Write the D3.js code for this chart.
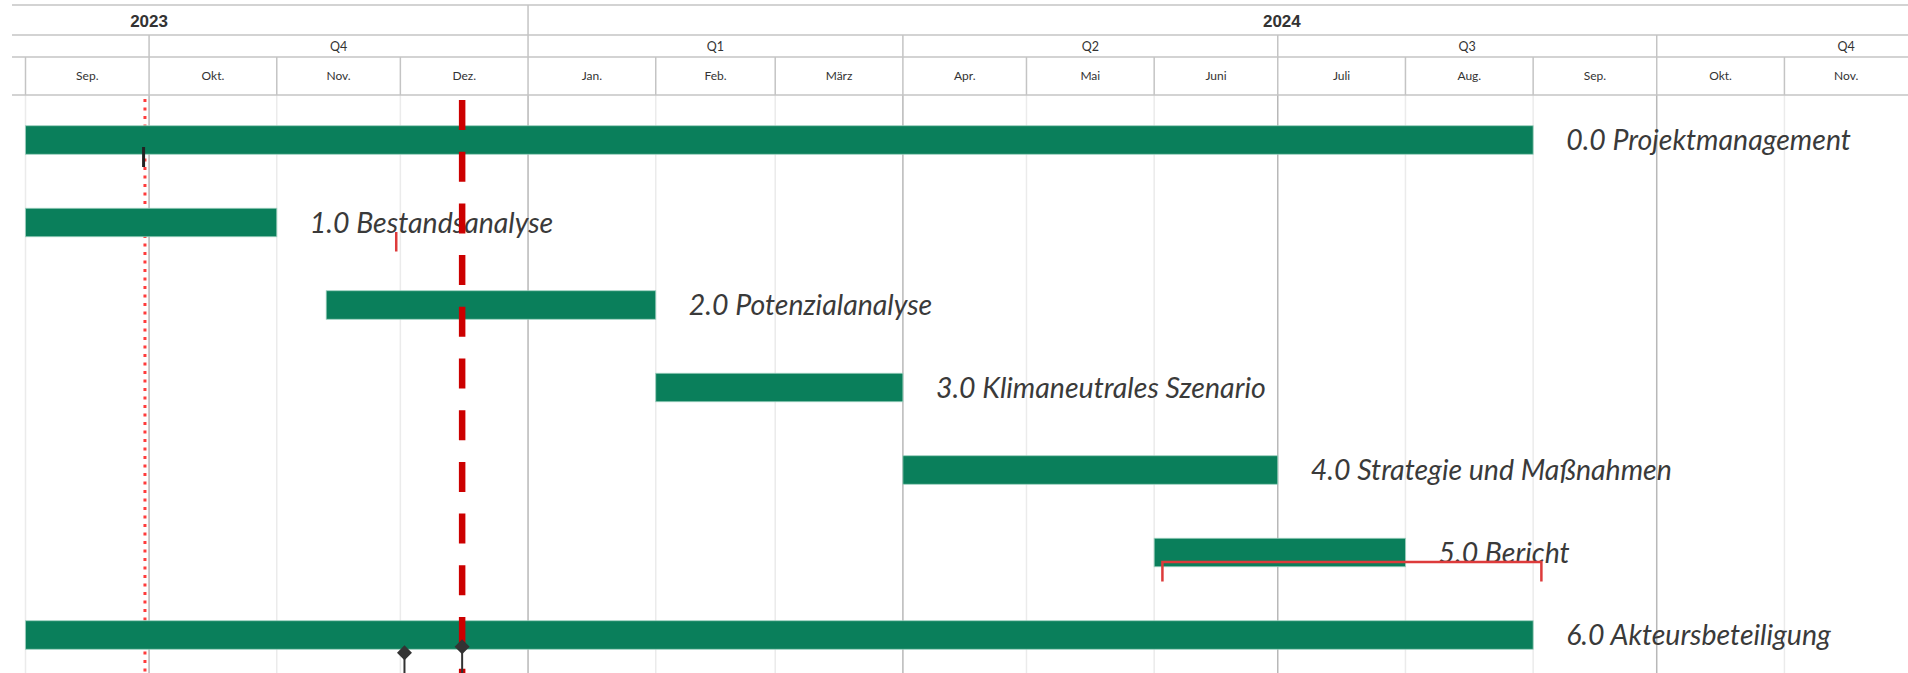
<!DOCTYPE html>
<html>
<head>
<meta charset="utf-8">
<script src="https://cdn.jsdelivr.net/npm/d3@7"></script>
<style>
  html, body { margin: 0; padding: 0; background: #fff; }
  svg { display: block; }
</style>
</head>
<body>
<svg id="chart" width="1908" height="673"></svg>
<script>
// ---------- data ----------
const tasks = [
  "0.0 Projektmanagement",
  "1.0 Bestandsanalyse",
  "2.0 Potenzialanalyse",
  "3.0 Klimaneutrales Szenario",
  "4.0 Strategie und Maßnahmen",
  "5.0 Bericht",
  "6.0 Akteursbeteiligung"
];
const taskStart = ["2023-09-01", "2023-09-01", "2023-11-13", "2024-02-01", "2024-04-01", "2024-06-01", "2023-09-01"];
const taskEnd   = ["2024-09-01", "2023-11-01", "2024-02-01", "2024-04-01", "2024-07-01", "2024-08-01", "2024-09-01"];

// red baseline brackets (task index, start, end)
const baselineTask  = [1, 5];
const baselineStart = ["2023-11-30", "2024-06-03"];
const baselineEnd   = ["2023-11-30", "2024-09-03"];

// milestones (diamonds) on task rows
const milestoneTask = [6, 6];
const milestoneDate = ["2023-12-02", "2023-12-16"];

// black marker on task 0
const markerTask = [0];
const markerDate = ["2023-09-29T16:00"];

const todayDate = "2023-12-16";
const dottedDate = "2023-09-30";

const monthLabels = ["Jan.", "Feb.", "März", "Apr.", "Mai", "Juni", "Juli", "Aug.", "Sep.", "Okt.", "Nov.", "Dez."];
const quarterLabels = ["Q1", "Q2", "Q3", "Q4"];
const viewStart = "2023-09-01";
const viewEnd = "2024-12-01";

// ---------- setup ----------
const W = 1908, H = 673;
const parse = s => new Date(s.length > 10 ? s : s + "T00:00");
const svg = d3.select("#chart");

const x = d3.scaleTime().domain([parse(viewStart), parse(viewEnd)]).range([25.5, W]);
const y = d3.scaleBand().domain(d3.range(tasks.length)).range([98.75, 676.25]);
const rowC = i => y(i) + y.bandwidth() / 2;
const barH = 28.5;

const headerTop = 5, yearBot = 35, qBot = 57, monthBot = 95;
const lineCol = "#c4c4c4";
const textCol = "#333333";

svg.append("defs").append("clipPath").attr("id", "clip")
  .append("rect").attr("x", 12).attr("y", 0).attr("width", W - 12).attr("height", H);

const root = svg.append("g").attr("clip-path", "url(#clip)");

const months = d3.timeMonth.range(parse(viewStart), parse(viewEnd));
const quarterStarts = d3.timeMonth.range(parse("2023-07-01"), parse("2025-01-01"), 3);
const years = [parse("2023-01-01"), parse("2024-01-01")];

// ---------- plot grid ----------
const grid = root.append("g");
grid.selectAll("line.m").data(months.filter(m => m.getMonth() % 3 !== 0)).join("line")
  .attr("x1", d => x(d)).attr("x2", d => x(d))
  .attr("y1", monthBot).attr("y2", H)
  .attr("stroke", "#ebebeb").attr("stroke-width", 1.5);
grid.selectAll("line.q").data(months.filter(m => m.getMonth() % 3 === 0)).join("line")
  .attr("x1", d => x(d)).attr("x2", d => x(d))
  .attr("y1", monthBot).attr("y2", H)
  .attr("stroke", "#b8b8b8").attr("stroke-width", 1.5);

// red dotted line (under bars)
root.append("line")
  .attr("x1", x(parse(dottedDate))).attr("x2", x(parse(dottedDate)))
  .attr("y1", 99).attr("y2", H)
  .attr("stroke", "#ff3b3b").attr("stroke-width", 3)
  .attr("stroke-dasharray", "3,5.5");

// ---------- header ----------
const hdr = root.append("g");
[headerTop, yearBot, qBot, monthBot].forEach(yy => {
  hdr.append("line").attr("x1", 12).attr("x2", W).attr("y1", yy).attr("y2", yy)
    .attr("stroke", lineCol).attr("stroke-width", 1.5);
});
// year row separators
hdr.selectAll("line.ys").data(years.filter(d => x(d) > 12)).join("line")
  .attr("x1", d => x(d)).attr("x2", d => x(d)).attr("y1", headerTop).attr("y2", yearBot)
  .attr("stroke", lineCol).attr("stroke-width", 1.5);
// quarter row separators
hdr.selectAll("line.qs").data(quarterStarts.filter(d => x(d) > 12 && x(d) < W)).join("line")
  .attr("x1", d => x(d)).attr("x2", d => x(d)).attr("y1", yearBot).attr("y2", qBot)
  .attr("stroke", lineCol).attr("stroke-width", 1.5);
// month row separators
hdr.selectAll("line.ms").data(months).join("line")
  .attr("x1", d => x(d)).attr("x2", d => x(d)).attr("y1", qBot).attr("y2", monthBot)
  .attr("stroke", lineCol).attr("stroke-width", 1.5);

// year labels
hdr.selectAll("text.y").data(years).join("text")
  .attr("x", d => {
    const mid = x(new Date((+d + +d3.timeYear.offset(d, 1)) / 2));
    return mid < x.range()[0] ? x(d3.timeMonth.offset(parse(viewStart), 1)) : mid;
  })
  .attr("y", 27)
  .attr("text-anchor", "middle")
  .attr("font-family", "'Liberation Sans', Arial, sans-serif")
  .attr("font-weight", "bold").attr("font-size", 17).attr("fill", textCol)
  .text(d => d.getFullYear());

// quarter labels (only those whose cell centre is in view)
const qMid = d => x(new Date((+d + +d3.timeMonth.offset(d, 3)) / 2));
hdr.selectAll("text.q").data(quarterStarts.filter(d => qMid(d) > 40)).join("text")
  .attr("x", qMid)
  .attr("y", 51)
  .attr("text-anchor", "middle")
  .attr("font-family", "Lato, sans-serif").attr("font-size", 12.5).attr("fill", textCol)
  .text(d => quarterLabels[Math.floor(d.getMonth() / 3)]);

// month labels
hdr.selectAll("text.m").data(months).join("text")
  .attr("x", d => x(new Date((+d + +d3.timeMonth.offset(d, 1)) / 2)))
  .attr("y", 80)
  .attr("text-anchor", "middle")
  .attr("font-family", "Lato, sans-serif").attr("font-size", 12).attr("fill", textCol)
  .text(d => monthLabels[d.getMonth()]);

// ---------- bars ----------
const barsG = root.append("g");
barsG.selectAll("rect").data(tasks).join("rect")
  .attr("x", (d, i) => x(parse(taskStart[i])))
  .attr("width", (d, i) => x(parse(taskEnd[i])) - x(parse(taskStart[i])))
  .attr("y", (d, i) => rowC(i) - barH / 2)
  .attr("height", barH)
  .attr("fill", "#0a7f5b")
  .attr("stroke", "#9ccfbd").attr("stroke-width", 0.8);

// task labels
barsG.selectAll("text").data(tasks).join("text")
  .attr("x", (d, i) => x(parse(taskEnd[i])) + 33)
  .attr("y", (d, i) => rowC(i) + 10)
  .attr("font-family", "Lato, sans-serif").attr("font-style", "italic")
  .attr("font-size", 28.5).attr("fill", "#3a3a3a")
  .text(d => d);

// baseline brackets
const bl = root.append("g");
baselineTask.forEach((t, k) => {
  const x0 = x(parse(baselineStart[k])), x1 = x(parse(baselineEnd[k]));
  const yTop = rowC(t) + 9.5, yBot = rowC(t) + 29;
  bl.append("path")
    .attr("d", `M${x0},${yBot}V${yTop}H${x1}V${yBot}`)
    .attr("fill", "none").attr("stroke", "#dd3b3b").attr("stroke-width", 2.5);
});

// black marker
markerTask.forEach((t, k) => {
  root.append("rect")
    .attr("x", x(parse(markerDate[k])) - 1.5).attr("width", 3)
    .attr("y", rowC(t) + 7).attr("height", 20)
    .attr("fill", "#222");
});

// today dashed line
root.append("line")
  .attr("x1", x(parse(todayDate))).attr("x2", x(parse(todayDate)))
  .attr("y1", 100).attr("y2", H)
  .attr("stroke", "#cc0000").attr("stroke-width", 6.5)
  .attr("stroke-dasharray", "30,21.7");

// milestones
const msOffset = [17.7, 11.7];
milestoneTask.forEach((t, k) => {
  const cx = x(parse(milestoneDate[k])), cy = rowC(t) + msOffset[k];
  root.append("line").attr("x1", cx).attr("x2", cx).attr("y1", cy).attr("y2", H)
    .attr("stroke", "#333").attr("stroke-width", 2);
  root.append("path")
    .attr("d", `M${cx},${cy - 7.5}L${cx + 7.5},${cy}L${cx},${cy + 7.5}L${cx - 7.5},${cy}Z`)
    .attr("fill", "#333");
});
</script>
</body>
</html>
